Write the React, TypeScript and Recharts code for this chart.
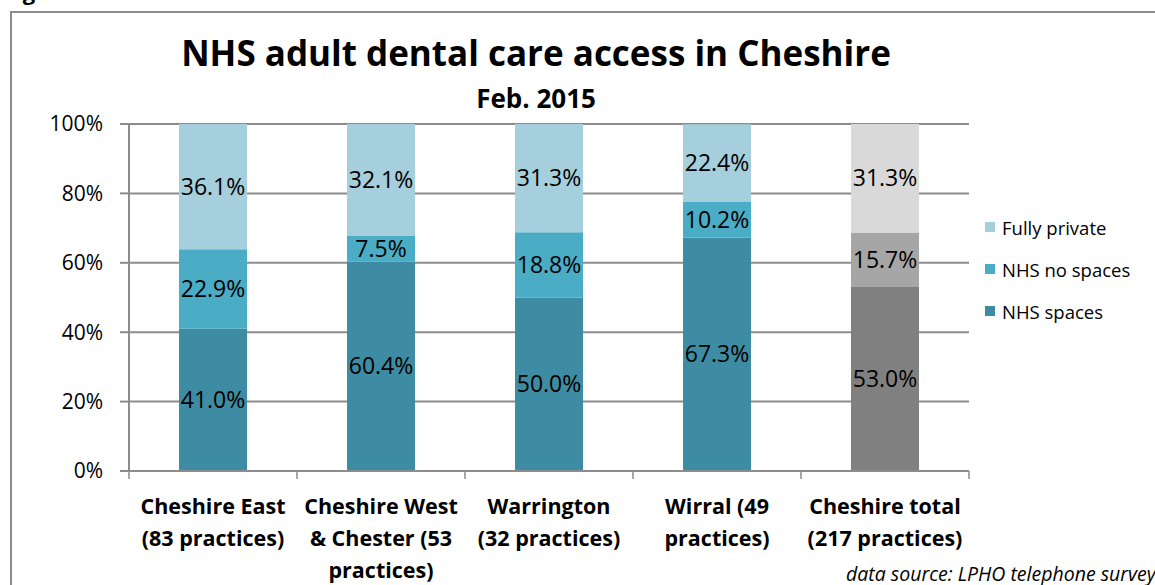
import React from 'react';
import { BarChart, Bar, XAxis, YAxis, CartesianGrid, LabelList, Cell } from 'recharts';

const categories = [
  'Cheshire East\n(83 practices)',
  'Cheshire West\n& Chester (53\npractices)',
  'Warrington\n(32 practices)',
  'Wirral (49\npractices)',
  'Cheshire total\n(217 practices)',
];
const nhsSpaces = [41.0, 60.4, 50.0, 67.3, 53.0];
const nhsNoSpaces = [22.9, 7.5, 18.8, 10.2, 15.7];
const fullyPrivate = [36.1, 32.1, 31.3, 22.4, 31.3];
const yTicks = [0, 20, 40, 60, 80, 100];
const seriesNames = ['NHS spaces', 'NHS no spaces', 'Fully private'];
const seriesColors = ['#3E8CA3', '#4BACC6', '#A5CFDD'];
const totalColors = ['#808080', '#A6A6A6', '#D9D9D9'];
const totalIndex = 4;

const data = categories.map((c, i) => ({
  name: c,
  s0: nhsSpaces[i],
  s1: nhsNoSpaces[i],
  s2: fullyPrivate[i],
}));

const FONT = '"Open Sans", Lato, sans-serif';
const GRID = '#8C8C8C';

const CategoryTick = (props: any) => {
  const { x, y, payload, index, visibleTicksCount } = props;
  const half = payload && payload.offset ? payload.offset : 84;
  const lines = String(payload.value).split('\n');
  const last = index === (visibleTicksCount ?? categories.length) - 1;
  return (
    <g>
      <line x1={x - half} y1={y - 8} x2={x - half} y2={y + 0} stroke={GRID} strokeWidth={1.5} />
      {last && <line x1={x + half} y1={y - 8} x2={x + half} y2={y + 0} stroke={GRID} strokeWidth={1.5} />}
      <text x={x} y={y + 35} textAnchor="middle" fontFamily={FONT} fontWeight={700} fontSize={21.5} fill="#000">
        {lines.map((l, k) => (
          <tspan key={k} x={x} dy={k === 0 ? 0 : 32}>{l}</tspan>
        ))}
      </text>
    </g>
  );
};

const fmt = (v: any) => `${Number(v).toFixed(1)}%`;

export default function App() {
  return (
    <div style={{ position: 'absolute', left: 0, top: 0, width: 1155, height: 585, background: '#fff', overflow: 'hidden' }}>
      <div style={{ position: 'absolute', left: 4, top: -24, fontFamily: FONT, fontWeight: 700, fontSize: 22, whiteSpace: 'nowrap' }}>Figure 3</div>
      <div style={{ position: 'absolute', left: 10, top: 11, width: 1200, height: 600, borderLeft: `2px solid ${GRID}`, borderTop: `2px solid ${GRID}` }} />
      <BarChart
        width={1155}
        height={585}
        data={data}
        margin={{ top: 124, right: 186, bottom: 0, left: 0 }}
        barSize={68}
        style={{ position: 'absolute', left: 0, top: 0 }}
      >
        <CartesianGrid vertical={false} stroke={GRID} strokeWidth={2} />
        <XAxis
          dataKey="name"
          height={114}
          axisLine={{ stroke: GRID, strokeWidth: 2 }}
          tickLine={false}
          tick={<CategoryTick />}
          interval={0}
        />
        <YAxis
          width={129}
          domain={[0, 100]}
          ticks={yTicks}
          tickFormatter={(v: number) => `${v}%`}
          axisLine={{ stroke: GRID, strokeWidth: 2 }}
          tickLine={{ stroke: GRID, strokeWidth: 2 }}
          tickSize={9}
          tickMargin={17}
          tick={{ fontFamily: FONT, fontSize: 21, fill: '#000' }}
          allowDataOverflow
        />
        {[0, 1, 2].map((k) => (
          <Bar key={k} dataKey={`s${k}`} name={seriesNames[k]} stackId="a" fill={seriesColors[k]} isAnimationActive={false}>
            {data.map((_, i) => (
              <Cell key={i} fill={i === totalIndex ? totalColors[k] : seriesColors[k]} />
            ))}
            <LabelList dataKey={`s${k}`} position="center" formatter={fmt} style={{ fontFamily: FONT, fontSize: 23, fill: '#000' }} />
          </Bar>
        ))}
      </BarChart>
      <div style={{ position: 'absolute', left: 985, top: 206, fontFamily: FONT, fontSize: 18.5, color: '#000' }}>
        {[2, 1, 0].map((k) => (
          <div key={k} style={{ display: 'flex', alignItems: 'center', height: 42 }}>
            <div style={{ width: 10, height: 10, background: seriesColors[k], marginRight: 7 }} />
            <span>{seriesNames[k]}</span>
          </div>
        ))}
      </div>
      <div style={{ position: 'absolute', left: 0, width: 1072, top: 35, lineHeight: 1, textAlign: 'center', fontFamily: FONT, fontWeight: 700, fontSize: 35, whiteSpace: 'nowrap' }}>
        NHS adult dental care access in Cheshire
      </div>
      <div style={{ position: 'absolute', left: 0, width: 1072, top: 85, lineHeight: 1, textAlign: 'center', fontFamily: FONT, fontWeight: 700, fontSize: 26, whiteSpace: 'nowrap' }}>
        Feb. 2015
      </div>
      <div style={{ position: 'absolute', left: 846, top: 564, lineHeight: 1, fontFamily: FONT, fontStyle: 'italic', fontSize: 19.5, whiteSpace: 'nowrap' }}>
        data source: LPHO telephone survey
      </div>
    </div>
  );
}
